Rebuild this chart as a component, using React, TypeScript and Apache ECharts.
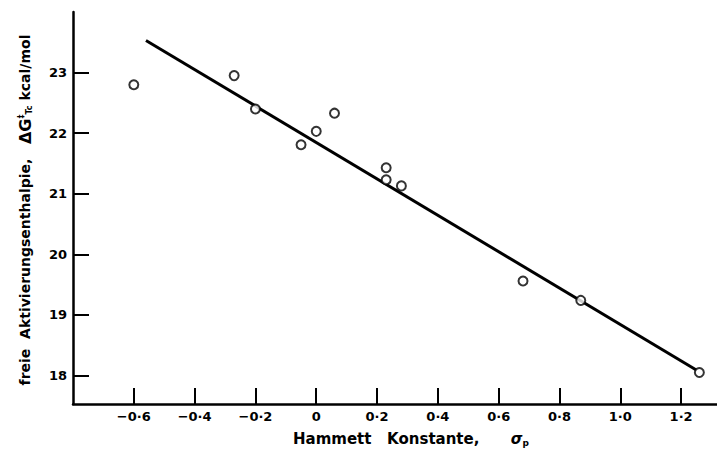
import React, { useEffect, useRef } from "react";
import * as echarts from "echarts";

const sigmaP = [-0.6, -0.27, -0.2, -0.05, 0.0, 0.06, 0.23, 0.23, 0.28, 0.68, 0.87, 1.26];
const deltaG = [22.8, 22.95, 22.4, 21.81, 22.03, 22.33, 21.43, 21.23, 21.13, 19.56, 19.24, 18.05];
const fitX = [-0.56, 1.25];
const fitY = [23.53, 18.09];
const xTicks = [-0.6, -0.4, -0.2, 0, 0.2, 0.4, 0.6, 0.8, 1.0, 1.2];
const yTicks = [18, 19, 20, 21, 22, 23];

const FONT = "DejaVu Sans";

function fmtX(v: number): string {
  if (Math.abs(v) < 1e-9) return "0";
  return (v < 0 ? "\u2212" : "") + Math.abs(v).toFixed(1).replace(".", "\u00b7");
}

export default function App() {
  const ref = useRef<HTMLDivElement>(null);
  useEffect(() => {
    if (!ref.current) return;
    const chart = echarts.init(ref.current, null, { renderer: "svg" });
    chart.setOption({
      animation: false,
      backgroundColor: "#ffffff",
      grid: { left: 73, right: 0, top: 12, bottom: 45 },
      xAxis: {
        type: "value",
        min: -0.8,
        max: 1.318,
        splitLine: { show: false },
        axisLine: { onZero: false, lineStyle: { color: "#000", width: 2.5 } },
        axisTick: {
          inside: true,
          length: 16,
          customValues: xTicks,
          lineStyle: { color: "#000", width: 2 },
        },
        axisLabel: {
          customValues: xTicks,
          formatter: (v: number) => fmtX(v),
          color: "#000",
          fontFamily: FONT,
          fontWeight: "bold",
          fontSize: 13,
          margin: 6,
        },
      },
      yAxis: {
        type: "value",
        min: 17.53,
        max: 24.0,
        splitLine: { show: false },
        axisLine: { onZero: false, lineStyle: { color: "#000", width: 2.5 } },
        axisTick: {
          inside: true,
          length: 16,
          customValues: yTicks,
          lineStyle: { color: "#000", width: 2 },
        },
        axisLabel: {
          customValues: yTicks,
          color: "#000",
          fontFamily: FONT,
          fontWeight: "bold",
          fontSize: 13,
          margin: 6,
        },
      },
      graphic: [
        {
          type: "text",
          left: 293,
          top: 431,
          style: {
            text: "Hammett   Konstante,      {s|\u03c3}{p|p}",
            fill: "#000",
            font: `bold 15px "${FONT}"`,
            rich: {
              s: { fontFamily: FONT, fontWeight: "bold", fontSize: 15, fontStyle: "italic" },
              p: { fontFamily: FONT, fontWeight: "bold", fontSize: 9, padding: [8, 0, 0, 0] },
            },
          },
        },
        {
          type: "text",
          x: 25,
          y: 210,
          rotation: Math.PI / 2,
          style: {
            text: "freie  Aktivierungsenthalpie,   {g|\u0394G}{sup|\u2021}{sub|Tc} kcal/mol",
            fill: "#000",
            font: `bold 14px "${FONT}"`,
            align: "center",
            verticalAlign: "middle",
            rich: {
              g: { fontFamily: FONT, fontWeight: "bold", fontSize: 16 },
              sup: { fontFamily: FONT, fontWeight: "bold", fontSize: 8, padding: [0, 0, 8, 0] },
              sub: { fontFamily: FONT, fontWeight: "bold", fontSize: 8, padding: [8, 0, 0, 0] },
            },
          },
        },
      ],
      series: [
        {
          type: "line",
          data: fitX.map((x, i) => [x, fitY[i]]),
          symbol: "none",
          lineStyle: { color: "#000", width: 3 },
          z: 2,
        },
        {
          type: "scatter",
          data: sigmaP.map((x, i) => [x, deltaG[i]]),
          symbol: "circle",
          symbolSize: 9,
          itemStyle: { color: "#fff", borderColor: "#000", borderWidth: 2 },
          z: 3,
        },
      ],
    });
    return () => chart.dispose();
  }, []);
  return (
    <div
      ref={ref}
      style={{ position: "fixed", left: 0, top: 0, width: 717, height: 449 }}
    />
  );
}
